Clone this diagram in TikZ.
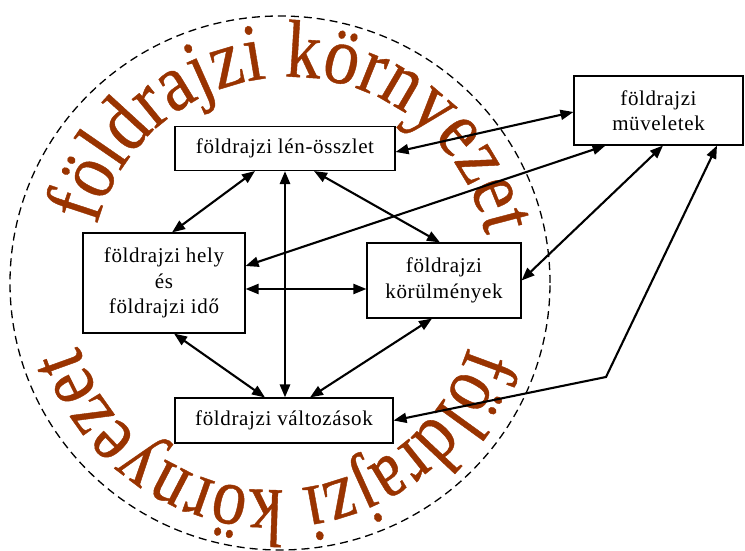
\documentclass[tikz,border=0pt]{standalone}
\usepackage{fontspec}
\setmainfont{Liberation Serif}
\newfontfamily\arcfonttop[FakeStretch=0.86,FakeBold=0.5]{Liberation Serif}
\newfontfamily\arcfontbot[FakeStretch=0.835,FakeBold=0.5]{Liberation Serif}
\newfontfamily\boxfont[LetterSpace=3]{Liberation Serif}
\usetikzlibrary{arrows.meta,decorations.text,calc}
\definecolor{arcbrown}{RGB}{153,51,0}
\begin{document}
\begin{tikzpicture}[x=1pt,y=1pt,
  box/.style={draw, line width=1.1pt, inner sep=0pt, align=center,
    font=\boxfont\fontsize{21pt}{25.5pt}\selectfont},
  link/.style={line width=2.1pt,
    {Triangle[length=13pt,width=10pt]}-{Triangle[length=13pt,width=10pt]}},
  ringtop/.style={decorate, decoration={text along path, text align=center,
    text color=arcbrown,
    text={|\arcfonttop\fontsize{82pt}{82pt}\selectfont|földrajzi környezet}}},
  ringbot/.style={decorate, decoration={text along path, text align=center,
    text color=arcbrown,
    text={|\arcfontbot\fontsize{82pt}{82pt}\selectfont|földrajzi környezet}}}
]
\useasboundingbox (0,0) rectangle (745,551);
\fill[white] (0,0) rectangle (745,551);

% dashed ring
\draw[line width=1.3pt, dash pattern=on 8pt off 5pt] (280,268) ellipse [x radius=270, y radius=267];

% curved texts (paths longer than the text, text centred on them)
\path[ringtop] (290,274) ++(173.5:200) arc[start angle=173.5, end angle=3.5, radius=200];
\path[ringbot] (273.5,265) ++(-5:204) arc[start angle=-5, end angle=-175, radius=204];

% boxes
\node[box, minimum width=220pt, minimum height=44pt] (A) at (285,402.5) {földrajzi lén-összlet};
\node[box, minimum width=162pt, minimum height=100pt] (B) at (164,268) {földrajzi hely\\és\\földrajzi idő};
\node[box, minimum width=154pt, minimum height=75pt] (C) at (444,270.5) {földrajzi\\körülmények};
\node[box, minimum width=218pt, minimum height=45pt] (D) at (284,130.5) {földrajzi változások};
\node[box, minimum width=169pt, minimum height=69pt] (E) at (658.5,440.5) {földrajzi\\müveletek};

% connectors
\draw[link] ([xshift=-30pt]A.south) -- ([xshift=8pt]B.north);
\draw[link, line width=2.7pt] (A.south) -- (A.south |- D.north);
\draw[link] ([xshift=29pt]A.south) -- ([xshift=-4pt]C.north);
\draw[link] ([yshift=-6pt]B.east) -- ([yshift=-6pt]B.east -| C.west);
\draw[link] ([yshift=17pt]B.east) -- ([xshift=-53pt]E.south);
\draw[link] ([yshift=-3.5pt]A.east) -- ([yshift=-1.5pt]E.west);
\draw[link] (C.east) -- ([xshift=4.5pt]E.south);
\coordinate (bend) at (606,174);
\draw[link] ([xshift=58.5pt]E.south) -- (bend) -- (D.east);
\draw[link] ([xshift=10pt]B.south) -- ([xshift=-19pt]D.north);
\draw[link] ([xshift=-12pt]C.south) -- ([xshift=26pt]D.north);
\end{tikzpicture}
\end{document}
